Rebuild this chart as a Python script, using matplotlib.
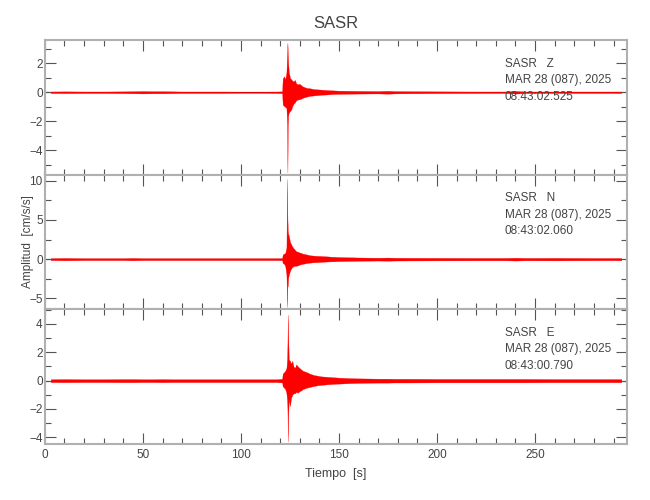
import numpy as np
import matplotlib
matplotlib.use('Agg')
import matplotlib.pyplot as plt
from matplotlib.ticker import MultipleLocator

plt.rcParams['font.family'] = ['Liberation Sans', 'DejaVu Sans']

# tiempo de los nodos de la envolvente [s]
tiempo = [3, 10, 20, 30, 40, 45, 50, 55, 60, 65, 70, 80, 90, 100, 110, 118,
          121.0, 121.3, 122.0, 122.6, 123.2, 123.5, 123.7, 123.9, 124.1, 124.4,
          125.0, 125.6, 126.2, 126.8, 127.5, 128.2, 129.0, 129.8, 130.6, 131.5,
          132.5, 133.5, 135, 137, 139, 141, 144, 147, 150, 155,
          160, 170, 175, 178, 185, 200, 220, 235, 240, 245,
          260, 280, 294]

z_sup = [0.05, 0.06, 0.05, 0.05, 0.06, 0.07, 0.08, 0.07, 0.07, 0.06, 0.05, 0.05, 0.05, 0.04, 0.04, 0.05,
         0.06, 0.95, 1.10, 0.90, 1.40, 2.60, 3.40, 2.70, 2.00, 1.40,
         1.00, 0.90, 0.80, 0.75, 0.85, 0.60, 0.55, 0.58, 0.50, 0.40,
         0.35, 0.30, 0.28, 0.22, 0.20, 0.18, 0.15, 0.13, 0.11, 0.10,
         0.09, 0.08, 0.10, 0.08, 0.07, 0.06, 0.05, 0.05, 0.09, 0.05,
         0.05, 0.05, 0.05]
z_inf = [0.05, 0.06, 0.05, 0.05, 0.06, 0.07, 0.08, 0.07, 0.07, 0.06, 0.05, 0.05, 0.05, 0.04, 0.04, 0.05,
         0.06, 0.85, 0.95, 1.00, 1.10, 2.20, 5.50, 2.40, 1.60, 1.40,
         1.30, 1.20, 0.95, 0.80, 0.70, 0.55, 0.50, 0.48, 0.45, 0.38,
         0.34, 0.30, 0.25, 0.22, 0.20, 0.17, 0.15, 0.12, 0.11, 0.10,
         0.09, 0.08, 0.10, 0.08, 0.07, 0.06, 0.05, 0.05, 0.09, 0.05,
         0.05, 0.05, 0.05]

n_sup = [0.12, 0.15, 0.12, 0.12, 0.12, 0.15, 0.12, 0.12, 0.12, 0.12, 0.12, 0.12, 0.12, 0.12, 0.12, 0.12,
         0.13, 0.60, 0.70, 0.80, 1.50, 10.2, 5.20, 3.60, 3.20, 3.00,
         2.20, 1.90, 1.60, 1.40, 1.20, 1.00, 0.95, 0.85, 0.80, 0.70,
         0.65, 0.60, 0.50, 0.45, 0.42, 0.40, 0.35, 0.30, 0.27, 0.24,
         0.21, 0.18, 0.20, 0.18, 0.17, 0.16, 0.15, 0.15, 0.18, 0.15,
         0.16, 0.14, 0.14]
n_inf = [0.12, 0.15, 0.12, 0.12, 0.12, 0.15, 0.12, 0.12, 0.12, 0.12, 0.12, 0.12, 0.12, 0.12, 0.12, 0.12,
         0.13, 0.50, 0.60, 0.90, 2.00, 6.10, 3.50, 3.40, 2.40, 2.00,
         1.50, 1.20, 1.00, 0.90, 0.85, 0.85, 0.80, 0.70, 0.65, 0.60,
         0.55, 0.50, 0.45, 0.40, 0.38, 0.35, 0.30, 0.28, 0.25, 0.23,
         0.21, 0.18, 0.20, 0.18, 0.17, 0.16, 0.15, 0.15, 0.18, 0.15,
         0.16, 0.14, 0.14]

e_sup = [0.10, 0.11, 0.10, 0.10, 0.11, 0.11, 0.10, 0.10, 0.11, 0.10, 0.10, 0.10, 0.10, 0.10, 0.10, 0.10,
         0.13, 0.50, 0.60, 0.70, 0.90, 1.50, 2.50, 4.65, 3.00, 1.50,
         1.40, 1.20, 1.40, 1.00, 0.90, 1.15, 1.00, 0.90, 0.80, 0.70,
         0.65, 0.60, 0.50, 0.40, 0.35, 0.30, 0.27, 0.24, 0.21, 0.18,
         0.16, 0.14, 0.14, 0.13, 0.13, 0.12, 0.12, 0.12, 0.12, 0.12,
         0.11, 0.11, 0.11]
e_inf = [0.10, 0.11, 0.10, 0.10, 0.11, 0.11, 0.10, 0.10, 0.11, 0.10, 0.10, 0.10, 0.10, 0.10, 0.10, 0.10,
         0.13, 0.40, 0.50, 0.60, 0.90, 1.40, 2.00, 4.30, 2.50, 1.30,
         1.80, 1.20, 1.00, 0.90, 0.90, 0.80, 0.85, 0.75, 0.70, 0.60,
         0.55, 0.50, 0.45, 0.38, 0.33, 0.30, 0.26, 0.23, 0.21, 0.18,
         0.16, 0.14, 0.14, 0.13, 0.13, 0.12, 0.12, 0.12, 0.12, 0.12,
         0.11, 0.11, 0.11]

componentes = ['Z', 'N', 'E']
horas = ['08:43:02.525', '08:43:02.060', '08:43:00.790']
fecha = 'MAR 28 (087), 2025'
estacion = 'SASR'
ylims = [(-5.66, 3.59), (-6.4, 10.77), (-4.47, 5.03)]
y_mayor = [2, 5, 2]
y_menor = [1, 2.5, 1]

if __name__ == '__main__':
    gris = '#444444'
    fig, axs = plt.subplots(3, 1, figsize=(6.5, 5), dpi=100, sharex=True)
    fig.subplots_adjust(left=0.069, right=0.965, top=0.92, bottom=0.112, hspace=0)

    datos = [(z_sup, z_inf), (n_sup, n_inf), (e_sup, e_inf)]
    t = np.array(tiempo)
    for i, ax in enumerate(axs):
        sup = np.array(datos[i][0])
        inf = -np.array(datos[i][1])
        ax.axhline(0, color='black', lw=0.8, zorder=1)
        ax.fill_between(t, inf, sup, color='#ff0000', lw=0.2, zorder=2)
        ax.set_xlim(0, 297)
        ax.set_ylim(*ylims[i])
        ax.xaxis.set_major_locator(MultipleLocator(50))
        ax.xaxis.set_minor_locator(MultipleLocator(10))
        ax.yaxis.set_major_locator(MultipleLocator(y_mayor[i]))
        ax.yaxis.set_minor_locator(MultipleLocator(y_menor[i]))
        ax.tick_params(which='both', direction='in', top=True, right=True,
                       color='#555555', labelcolor=gris, labelsize=8.5)
        ax.tick_params(axis='y', pad=1.5)
        ax.tick_params(which='major', length=8, width=0.8)
        ax.tick_params(which='minor', length=4, width=0.8)
        for s in ax.spines.values():
            s.set_color('#b0b0b0')
            s.set_linewidth(1.5)
        ax.text(0.79, 0.87, estacion + '   ' + componentes[i] + '\n' + fecha + '\n' + horas[i],
                transform=ax.transAxes, ha='left', va='top', fontsize=8.5,
                color=gris, linespacing=1.5, zorder=5)

    axs[0].set_title(estacion, color=gris, fontsize=12, pad=9)
    axs[1].set_ylabel('Amplitud  [cm/s/s]', color=gris, fontsize=8.5)
    axs[1].yaxis.set_label_coords(-0.018, 0.5)
    axs[2].set_xlabel('Tiempo  [s]', color=gris, fontsize=9, labelpad=5)

    fig.savefig('out.png', dpi=100)
    print('finish')
